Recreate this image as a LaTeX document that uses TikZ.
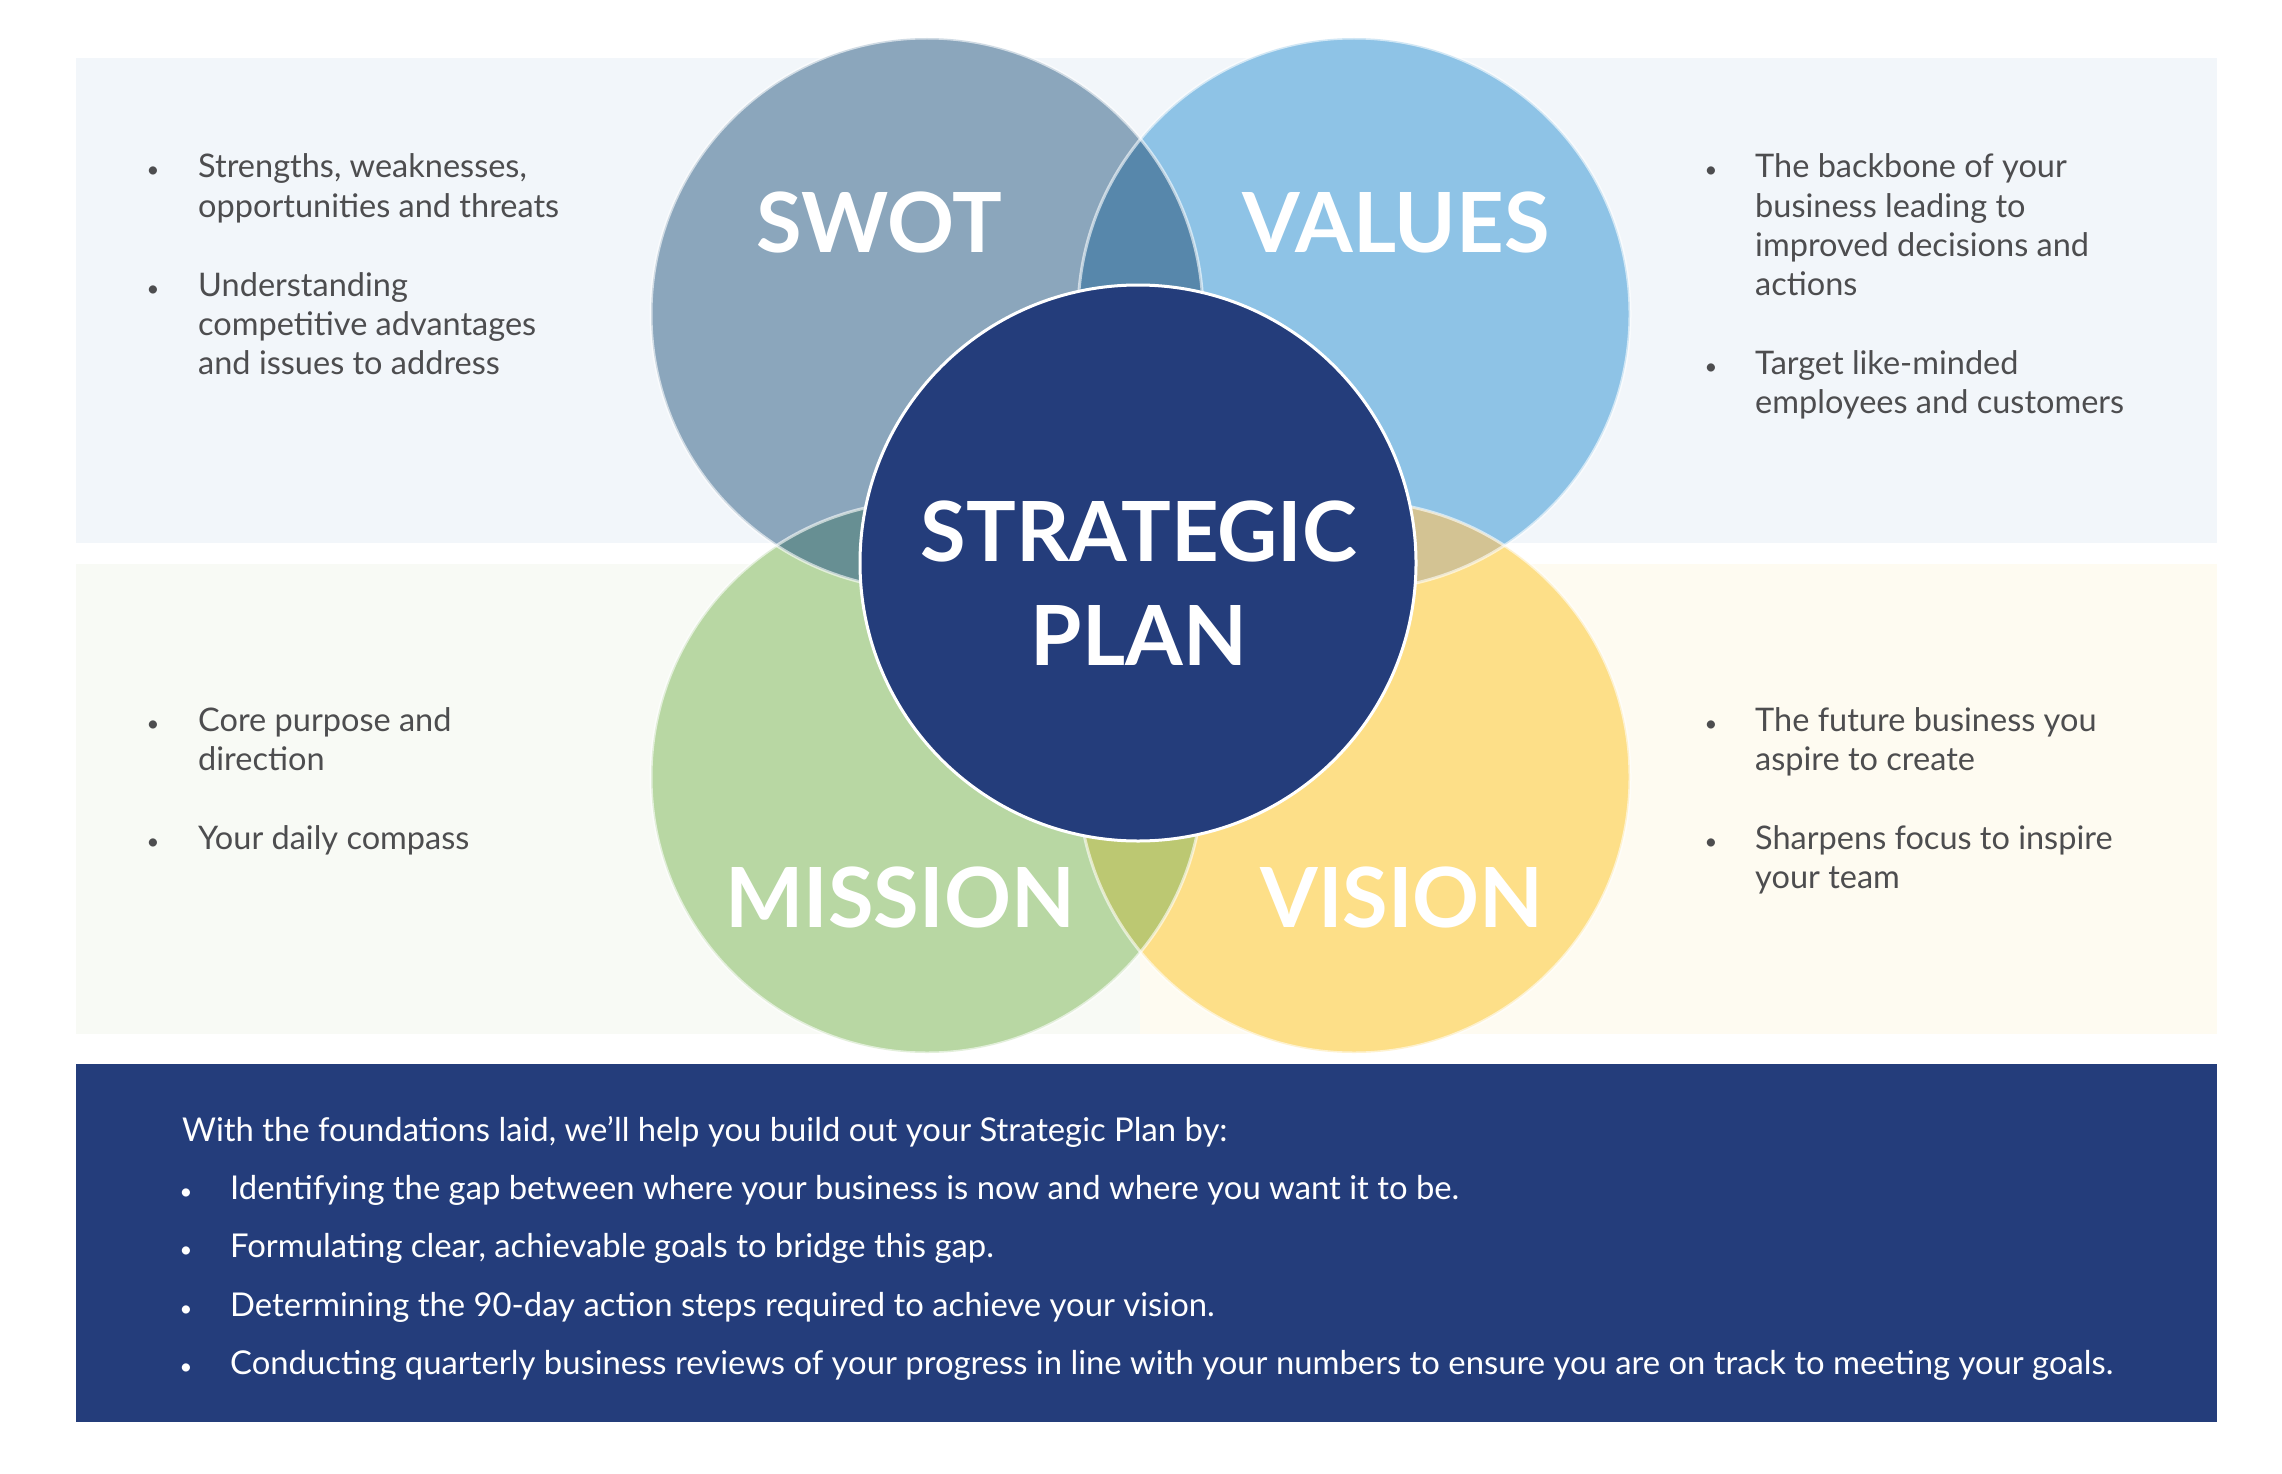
\documentclass[tikz,border=0pt]{standalone}
\usepackage{fontspec}
\setmainfont{Lato}
\definecolor{bandtop}{HTML}{F2F6FA}
\definecolor{bandgreen}{HTML}{F8FAF5}
\definecolor{bandyellow}{HTML}{FEFBF1}
\definecolor{navy}{HTML}{243D7B}
\definecolor{cswot}{HTML}{8BA6BC}
\definecolor{cvalues}{HTML}{8EC3E6}
\definecolor{cmission}{HTML}{B8D7A3}
\definecolor{cvision}{HTML}{FDDF88}
\definecolor{osv}{HTML}{5787AB}
\definecolor{osm}{HTML}{678F93}
\definecolor{ovv}{HTML}{D3C393}
\definecolor{omv}{HTML}{BCC872}
\definecolor{txtgray}{HTML}{4D4D4F}
\newcommand\linestack[1]{\begin{tabular}[t]{@{}l@{}}#1\end{tabular}}
\tikzset{
  bigtitle/.style={text=white, font=\fontsize{83}{90}\selectfont\bfseries, inner sep=0pt},
  bodytext/.style={text=txtgray, font=\fontsize{32.5}{39.3}\selectfont, inner sep=0pt, anchor=base west},
  bul/.style={text=txtgray, font=\fontsize{22}{22}\selectfont, inner sep=0pt, anchor=base},
  boxtext/.style={text=white, font=\fontsize{32.8}{33}\selectfont, inner sep=0pt, anchor=base west},
  boxbul/.style={text=white, font=\fontsize{22}{22}\selectfont, inner sep=0pt, anchor=base},
  ring/.style={draw=white, draw opacity=0.6, line width=3pt}
}
\begin{document}
\begin{tikzpicture}[x=1pt,y=-1pt]
\useasboundingbox (0,0) rectangle (2282,1474);
\fill[white] (0,0) rectangle (2282,1474);
% bands
\fill[bandtop] (76,58) rectangle (2217,543);
\fill[bandgreen] (76,564) rectangle (1140,1034);
\fill[bandyellow] (1140,564) rectangle (2217,1034);
\node[fill=navy, minimum width=2141pt, minimum height=358pt, anchor=north west, inner sep=0pt] (box) at (76,1064) {};
% circles
\coordinate (cs) at (927,314);
\coordinate (cv) at (1354,314);
\coordinate (cm) at (927,777);
\coordinate (ci) at (1354,777);
\coordinate (cc) at (1138,563);
\fill[cswot] (cs) circle[radius=276pt];
\fill[cvalues] (cv) circle[radius=276pt];
\fill[cmission] (cm) circle[radius=276pt];
\fill[cvision] (ci) circle[radius=276pt];
\begin{scope}
  \clip (cs) circle[radius=276pt];
  \fill[osv] (cv) circle[radius=276pt];
  \fill[osm] (cm) circle[radius=276pt];
\end{scope}
\begin{scope}
  \clip (ci) circle[radius=276pt];
  \fill[ovv] (cv) circle[radius=276pt];
  \fill[omv] (cm) circle[radius=276pt];
\end{scope}
\draw[ring] (cs) circle[radius=276pt];
\draw[ring] (cv) circle[radius=276pt];
\draw[ring] (cm) circle[radius=276pt];
\draw[ring] (ci) circle[radius=276pt];
\node[circle, fill=navy, draw=white, line width=3pt, minimum size=556pt, inner sep=0pt] (center) at (cc) {};
% titles
\node[bigtitle] (swot) at (879,222) {SWOT};
\node[bigtitle] (values) at (1396,222) {VALUES};
\node[bigtitle] (strat) at (1139,531) {STRATEGIC};
\node[bigtitle] (plan) at (1139,635) {PLAN};
\node[bigtitle] (mission) at (900,897) {MISSION};
\node[bigtitle] (vision) at (1402,897) {VISION};
% left top
\node[bul] (b1) at (153,178) {•};
\node[bodytext] (t1) at (198,178) {\linestack{Strengths, weaknesses,\\opportunities and threats}};
\node[bul] (b2) at (153,296) {•};
\node[bodytext] (t2) at (198,296) {\linestack{Understanding\\competitive advantages\\and issues to address}};
% right top
\node[bul] (b3) at (1711,178) {•};
\node[bodytext] (t3) at (1755,178) {\linestack{The backbone of your\\business leading to\\improved decisions and\\actions}};
\node[bul] (b4) at (1711,374) {•};
\node[bodytext] (t4) at (1755,374) {\linestack{Target like-minded\\employees and customers}};
% left bottom
\node[bul] (b5) at (153,731) {•};
\node[bodytext] (t5) at (198,731) {\linestack{Core purpose and\\direction}};
\node[bul] (b6) at (153,849) {•};
\node[bodytext] (t6) at (198,849) {Your daily compass};
% right bottom
\node[bul] (b7) at (1711,731) {•};
\node[bodytext] (t7) at (1755,731) {\linestack{The future business you\\aspire to create}};
\node[bul] (b8) at (1711,849) {•};
\node[bodytext] (t8) at (1755,849) {\linestack{Sharpens focus to inspire\\your team}};
% bottom box
\node[boxtext] (intro) at (182,1141) {With the foundations laid, we’ll help you build out your Strategic Plan by:};
\node[boxbul] (c1) at (186,1199) {•};
\node[boxtext] (d1) at (230,1199) {Identifying the gap between where your business is now and where you want it to be.};
\node[boxbul] (c2) at (186,1257) {•};
\node[boxtext] (d2) at (230,1257) {Formulating clear, achievable goals to bridge this gap.};
\node[boxbul] (c3) at (186,1316) {•};
\node[boxtext] (d3) at (230,1316) {Determining the 90-day action steps required to achieve your vision.};
\node[boxbul] (c4) at (186,1374) {•};
\node[boxtext] (d4) at (230,1374) {Conducting quarterly business reviews of your progress in line with your numbers to ensure you are on track to meeting your goals.};
\end{tikzpicture}
\end{document}
